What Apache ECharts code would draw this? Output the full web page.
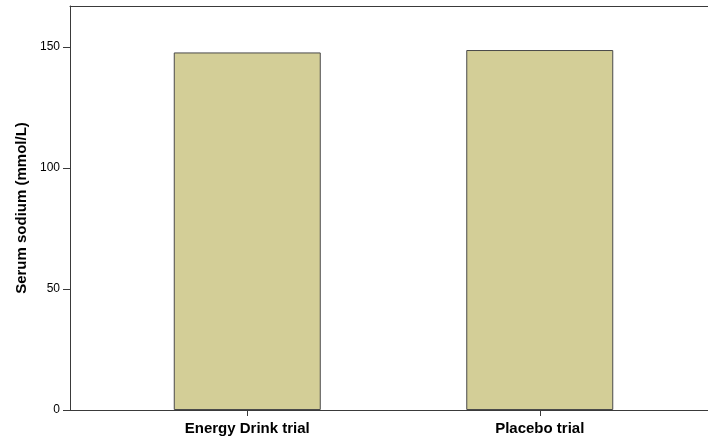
<!DOCTYPE html>
<html>
<head>
<meta charset="utf-8">
<script src="https://cdn.jsdelivr.net/npm/echarts@6/dist/echarts.min.js"></script>
<style>
html,body{margin:0;padding:0;background:#fff;}
#chart{width:708px;height:444px;}
</style>
</head>
<body>
<div id="chart"></div>
<script>
const categories = ['Energy Drink trial', 'Placebo trial'];
const sodiumValues = [147.8, 148.8];
const yTicks = [0, 50, 100, 150];
const yMax = 167;

const chart = echarts.init(document.getElementById('chart'), null, {renderer: 'canvas'});
const font = 'Liberation Sans, Arial, sans-serif';
const lineColor = '#3a3a3a';

chart.setOption({
  animation: false,
  backgroundColor: '#ffffff',
  grid: [
    {left: 70, right: -10, top: 6, bottom: 34},
    {left: 101, right: 22, top: 6, bottom: 34}
  ],
  xAxis: [
    {gridIndex: 0, type: 'value', min: 0, max: 1, position: 'bottom',
      axisLine: {show: true, onZero: false, lineStyle: {color: lineColor, width: 1}},
      axisTick: {show: false}, axisLabel: {show: false}, splitLine: {show: false}},
    {gridIndex: 0, type: 'value', min: 0, max: 1, position: 'top',
      axisLine: {show: true, onZero: false, lineStyle: {color: lineColor, width: 1}},
      axisTick: {show: false}, axisLabel: {show: false}, splitLine: {show: false}},
    {gridIndex: 1, type: 'category', data: categories,
      axisLine: {show: false},
      axisTick: {show: true, alignWithLabel: true, length: 6, lineStyle: {color: lineColor}},
      axisLabel: {color: '#000', fontFamily: font, fontWeight: 'bold', fontSize: 15, margin: 11},
      splitLine: {show: false}}
  ],
  yAxis: [
    {gridIndex: 0, type: 'value', min: 0, max: yMax,
      name: 'Serum sodium (mmol/L)', nameLocation: 'middle', nameGap: 41,
      nameTextStyle: {color: '#000', fontFamily: font, fontWeight: 'bold', fontSize: 15},
      axisLine: {show: true, onZero: false, lineStyle: {color: lineColor, width: 1}},
      axisTick: {show: true, length: 7, customValues: yTicks, lineStyle: {color: lineColor}},
      axisLabel: {color: '#000', fontFamily: font, fontSize: 12, margin: 10, customValues: yTicks},
      splitLine: {show: false}},
    {gridIndex: 1, type: 'value', min: 0, max: yMax, show: false}
  ],
  series: [{
    type: 'bar',
    xAxisIndex: 2, yAxisIndex: 1,
    data: sodiumValues,
    barWidth: 147,
    itemStyle: {color: '#d3ce97', borderColor: '#4a4a4a', borderWidth: 1}
  }]
});
</script>
</body>
</html>
